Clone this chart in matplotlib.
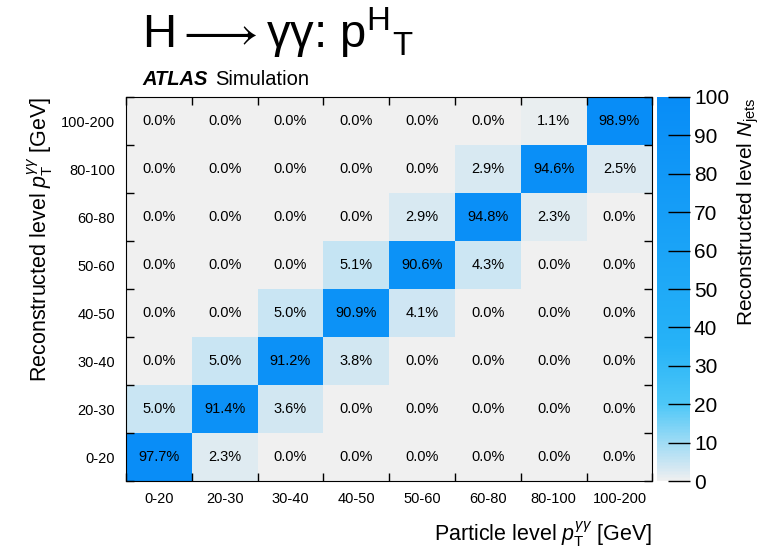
import numpy as np
import matplotlib
matplotlib.use("Agg")
from matplotlib import pyplot as plt
from matplotlib.colors import LinearSegmentedColormap

# bins
bin_labels = ["0-20", "20-30", "30-40", "40-50", "50-60", "60-80", "80-100", "100-200"]

# migration matrix in %, rows = reconstructed bin (bottom to top), cols = particle bin
row_0_20 = [97.7, 2.3, 0.0, 0.0, 0.0, 0.0, 0.0, 0.0]
row_20_30 = [5.0, 91.4, 3.6, 0.0, 0.0, 0.0, 0.0, 0.0]
row_30_40 = [0.0, 5.0, 91.2, 3.8, 0.0, 0.0, 0.0, 0.0]
row_40_50 = [0.0, 0.0, 5.0, 90.9, 4.1, 0.0, 0.0, 0.0]
row_50_60 = [0.0, 0.0, 0.0, 5.1, 90.6, 4.3, 0.0, 0.0]
row_60_80 = [0.0, 0.0, 0.0, 0.0, 2.9, 94.8, 2.3, 0.0]
row_80_100 = [0.0, 0.0, 0.0, 0.0, 0.0, 2.9, 94.6, 2.5]
row_100_200 = [0.0, 0.0, 0.0, 0.0, 0.0, 0.0, 1.1, 98.9]

matrix = np.array([row_0_20, row_20_30, row_30_40, row_40_50,
                   row_50_60, row_60_80, row_80_100, row_100_200])

cmap = LinearSegmentedColormap.from_list("atlasblue", [
  (0.00, (0.94, 0.94, 0.94)),
  (0.03, (0.84, 0.91, 0.95)),
  (0.10, (0.62, 0.86, 0.96)),
  (0.20, (0.30, 0.78, 0.97)),
  (0.35, (0.15, 0.70, 0.97)),
  (1.00, (0.03, 0.55, 0.97)),
])

plt.rcParams['font.family'] = ['Liberation Sans', 'DejaVu Sans']
plt.rcParams['mathtext.fontset'] = 'custom'
plt.rcParams['mathtext.it'] = 'Liberation Sans:italic'
plt.rcParams['mathtext.rm'] = 'Liberation Sans'

fig = plt.figure(figsize=(7.63, 5.48), dpi=100)
ax = fig.add_axes([0.165, 0.122, 0.690, 0.701])
cax = fig.add_axes([0.861, 0.122, 0.043, 0.701])

n = len(bin_labels)
edges = np.arange(n + 1)
mesh = ax.pcolormesh(edges, edges, matrix, cmap=cmap, vmin=0, vmax=100)

for i in range(n):
  for j in range(n):
    ax.text(j + 0.5, i + 0.5, "%.1f%%" % matrix[i, j], ha='center', va='center',
            fontsize=10.5, color='black')

ax.set_xlim(0, n)
ax.set_ylim(0, n)
ax.set_xticks(edges)
ax.set_yticks(edges)
ax.set_xticklabels([])
ax.set_yticklabels([])
ax.set_xticks(edges[:-1] + 0.5, minor=True)
ax.set_yticks(edges[:-1] + 0.5, minor=True)
ax.set_xticklabels(bin_labels, minor=True, fontsize=10.5)
ax.set_yticklabels(bin_labels, minor=True, fontsize=10.5)
ax.tick_params(which='major', direction='in', length=6, top=True, right=True, width=1)
ax.tick_params(which='minor', length=0, pad=8)

ax.set_xlabel(r"Particle level $p_{\mathrm{T}}^{\gamma\gamma}$ [GeV]", fontsize=15.5, loc='right', labelpad=10)
ax.set_ylabel(r"Reconstructed level $p_{\mathrm{T}}^{\gamma\gamma}$ [GeV]", fontsize=15.5, loc='top', labelpad=4)

cb = fig.colorbar(mesh, cax=cax)
cb.outline.set_visible(False)
cb.set_ticks(np.arange(0, 101, 10))
cax.tick_params(direction='in', length=16, width=1, labelsize=15, pad=3)
cb.set_label(r"Reconstructed level $N_{\mathrm{jets}}$", fontsize=15, loc='top', labelpad=5)

fig.text(0.186, 0.912, "H$\\longrightarrow$\u03b3\u03b3: p$^{\\mathrm{H}}$$_{\\mathrm{T}}$", fontsize=34)
fig.text(0.186, 0.845, "ATLAS", fontsize=14.5, fontweight='bold', fontstyle='italic')
fig.text(0.282, 0.845, "Simulation", fontsize=14.5)

fig.savefig("out.png", dpi=100)
